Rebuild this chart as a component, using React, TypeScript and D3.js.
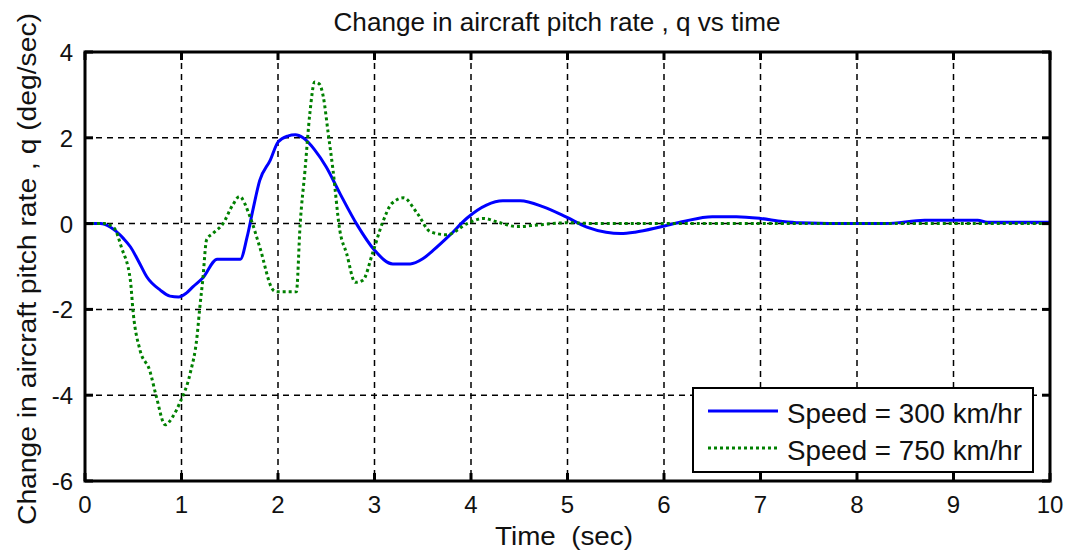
import * as d3 from 'd3';

// Speed = 300 km/hr
const t300 = [0, 0.16, 0.26, 0.4, 0.47, 0.56, 0.64, 0.78, 0.88, 0.97, 1.05, 1.12, 1.22, 1.37, 1.61, 1.68, 1.74, 1.81, 1.92, 2.0, 2.1, 2.18, 2.26, 2.38, 2.5, 2.64, 2.82, 3.0, 3.19, 3.37, 3.5, 3.61, 3.78, 3.96, 4.16, 4.33, 4.51, 4.75, 4.99, 5.2, 5.4, 5.55, 5.7, 5.96, 6.2, 6.5, 6.75, 7.0, 7.23, 7.41, 8.0, 8.3, 8.7, 9.25, 9.35, 10];
const q300 = [0, 0, -0.08, -0.35, -0.54, -0.9, -1.24, -1.55, -1.69, -1.71, -1.62, -1.47, -1.27, -0.83, -0.83, -0.31, 0.32, 1.0, 1.48, 1.9, 2.04, 2.07, 2.0, 1.72, 1.32, 0.71, -0.03, -0.62, -0.94, -0.94, -0.82, -0.62, -0.27, 0.13, 0.43, 0.53, 0.53, 0.39, 0.15, -0.08, -0.2, -0.23, -0.2, -0.08, 0.05, 0.16, 0.16, 0.12, 0.05, 0.02, 0.0, 0.0, 0.08, 0.08, 0.03, 0.03];

// Speed = 750 km/hr
const t750 = [0, 0.2, 0.3, 0.38, 0.47, 0.5, 0.57, 0.67, 0.74, 0.83, 0.91, 0.98, 1.09, 1.16, 1.19, 1.22, 1.26, 1.33, 1.43, 1.53, 1.6, 1.71, 1.81, 1.95, 1.99, 2.19, 2.23, 2.28, 2.33, 2.38, 2.43, 2.47, 2.52, 2.57, 2.64, 2.71, 2.8, 2.88, 2.98, 3.08, 3.18, 3.3, 3.44, 3.58, 3.75, 3.96, 4.13, 4.27, 4.48, 4.7, 5.0, 5.3, 10];
const q750 = [0, 0, -0.1, -0.57, -1.32, -2.09, -2.95, -3.42, -4.04, -4.69, -4.5, -4.19, -3.49, -2.65, -1.95, -1.32, -0.38, -0.22, 0.0, 0.43, 0.63, 0.16, -0.54, -1.55, -1.59, -1.59, 0.0, 1.25, 2.57, 3.3, 3.25, 2.95, 2.11, 1.25, -0.15, -0.69, -1.37, -1.32, -0.69, 0.0, 0.47, 0.6, 0.25, -0.19, -0.26, 0.0, 0.12, 0.04, -0.07, -0.03, 0.02, 0.0, 0.0];

const xTicks = [0, 1, 2, 3, 4, 5, 6, 7, 8, 9, 10];
const yTicks = [-6, -4, -2, 0, 2, 4];
const seriesNames = ['Speed = 300 km/hr', 'Speed = 750 km/hr'];

const W = 1069;
const H = 558;
const left = 85, right = 1050, top = 52, bottom = 481;
const font = '"Liberation Sans", Arial, sans-serif';

export default function App() {
  const x = d3.scaleLinear().domain([0, 10]).range([left, right]);
  const y = d3.scaleLinear().domain([-6, 4]).range([bottom, top]);

  const line = d3.line<[number, number]>()
    .x(d => x(d[0]))
    .y(d => y(d[1]))
    .curve(d3.curveMonotoneX);

  const d300 = line(t300.map((t, i) => [t, q300[i]] as [number, number])) || '';
  const d750 = line(t750.map((t, i) => [t, q750[i]] as [number, number])) || '';

  const tickLen = 8;

  return (
    <svg width={W} height={H} style={{ position: 'absolute', left: 0, top: 0, background: '#fff' }}>
      {/* Title */}
      <text x={557} y={31} textAnchor="middle" fontFamily={font} fontSize={25}
        textLength={447} lengthAdjust="spacingAndGlyphs" fill="#111">
        Change in aircraft pitch rate , q vs time
      </text>

      {/* Grid */}
      {xTicks.slice(1, -1).map(t => (
        <line key={'gx' + t} x1={x(t)} x2={x(t)} y1={top} y2={bottom}
          stroke="#000" strokeWidth={1.5} strokeDasharray="6,5" />
      ))}
      {yTicks.slice(1, -1).map(v => (
        <line key={'gy' + v} x1={left} x2={right} y1={y(v)} y2={y(v)}
          stroke="#000" strokeWidth={1.5} strokeDasharray="6,5" />
      ))}

      {/* Series */}
      <path d={d300} fill="none" stroke="#0000ff" strokeWidth={3} strokeLinejoin="round" />
      <path d={d750} fill="none" stroke="#008000" strokeWidth={3} strokeDasharray="3,3" />

      {/* Frame and ticks */}
      <rect x={left} y={top} width={right - left} height={bottom - top} fill="none" stroke="#000" strokeWidth={3} />
      {xTicks.map(t => (
        <g key={'tx' + t}>
          <line x1={x(t)} x2={x(t)} y1={bottom} y2={bottom - tickLen} stroke="#000" strokeWidth={3} />
          <line x1={x(t)} x2={x(t)} y1={top} y2={top + tickLen} stroke="#000" strokeWidth={3} />
          <text x={x(t)} y={513} textAnchor="middle" fontFamily={font} fontSize={24} fill="#111">{t}</text>
        </g>
      ))}
      {yTicks.map(v => (
        <g key={'ty' + v}>
          <line x1={left} x2={left + tickLen} y1={y(v)} y2={y(v)} stroke="#000" strokeWidth={3} />
          <line x1={right} x2={right - tickLen} y1={y(v)} y2={y(v)} stroke="#000" strokeWidth={3} />
          <text x={73} y={y(v) + 9} textAnchor="end" fontFamily={font} fontSize={24} fill="#111">{v}</text>
        </g>
      ))}

      {/* Axis labels */}
      <text x={564} y={545} textAnchor="middle" fontFamily={font} fontSize={25}
        textLength={138} lengthAdjust="spacingAndGlyphs" fill="#111" style={{ whiteSpace: 'pre' }}>
        {'Time  (sec)'}
      </text>
      <text transform={`translate(36,269) rotate(-90)`} textAnchor="middle" fontFamily={font} fontSize={25}
        textLength={512} lengthAdjust="spacingAndGlyphs" fill="#111">
        Change in aircraft pitch rate , q (deg/sec)
      </text>

      {/* Legend */}
      <rect x={693} y={388} width={340} height={84} fill="#fff" stroke="#000" strokeWidth={2} />
      <line x1={708} x2={778} y1={411} y2={411} stroke="#0000ff" strokeWidth={3} />
      <line x1={708} x2={778} y1={448} y2={448} stroke="#008000" strokeWidth={3} strokeDasharray="3,3" />
      <text x={787} y={423} fontFamily={font} fontSize={27} textLength={235} lengthAdjust="spacingAndGlyphs" fill="#111">
        {seriesNames[0]}
      </text>
      <text x={787} y={460} fontFamily={font} fontSize={27} textLength={235} lengthAdjust="spacingAndGlyphs" fill="#111">
        {seriesNames[1]}
      </text>
    </svg>
  );
}
